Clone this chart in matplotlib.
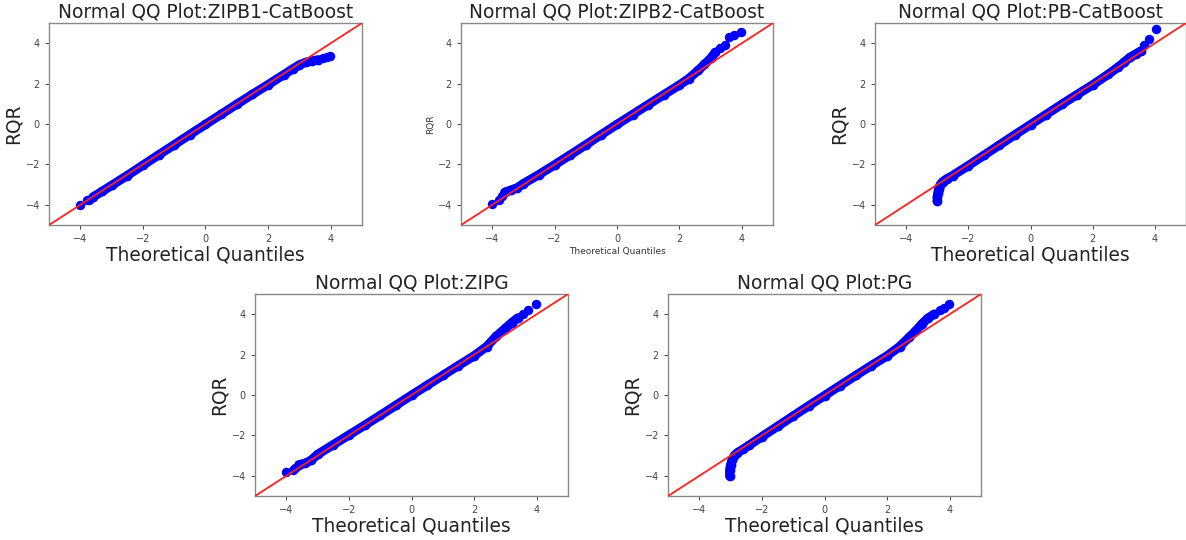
import matplotlib
matplotlib.use("Agg")
import matplotlib.pyplot as plt

# ---- data (theoretical quantile, RQR) ----
titles = ["Normal QQ Plot:ZIPB1-CatBoost", "Normal QQ Plot:ZIPB2-CatBoost",
          "Normal QQ Plot:PB-CatBoost", "Normal QQ Plot:ZIPG", "Normal QQ Plot:PG"]

zipb1_band_x = [-3.6, -3.3, -3.0, -2.5, -2.0, -1.5, -1.0, -0.5, 0.0, 0.5, 1.0, 1.5, 2.0, 2.5, 2.8, 3.0, 3.2, 3.4, 3.6]
zipb1_band_y = [-3.62, -3.33, -3.04, -2.55, -2.04, -1.53, -1.03, -0.52, -0.02, 0.48, 0.98, 1.47, 1.95, 2.44, 2.74, 2.93, 3.05, 3.12, 3.18]
zipb1_dots_x = [-4.0, -3.8, -3.72, 3.75, 3.88, 3.98]
zipb1_dots_y = [-4.02, -3.76, -3.76, 3.25, 3.3, 3.36]

zipb2_band_x = [-3.6, -3.4, -3.2, -3.0, -2.5, -2.0, -1.5, -1.0, -0.5, 0.0, 0.5, 1.0, 1.5, 2.0, 2.3, 2.6, 2.8, 3.0, 3.15]
zipb2_band_y = [-3.38, -3.27, -3.16, -2.95, -2.5, -2.02, -1.53, -1.03, -0.52, -0.02, 0.47, 0.96, 1.45, 1.93, 2.25, 2.65, 2.95, 3.25, 3.55]
zipb2_dots_x = [-4.02, -3.78, -3.68, 3.3, 3.45, 3.6, 3.75, 3.98]
zipb2_dots_y = [-3.96, -3.76, -3.55, 3.78, 3.9, 4.3, 4.4, 4.53]

pb_band_x = [-3.0, -3.0, -2.98, -2.95, -2.9, -2.82, -2.7, -2.5, -2.0, -1.5, -1.0, -0.5, 0.0, 0.5, 1.0, 1.5, 2.0, 2.5, 2.8, 3.0, 3.2, 3.4, 3.55]
pb_band_y = [-3.8, -3.6, -3.4, -3.2, -3.0, -2.85, -2.72, -2.55, -2.06, -1.55, -1.04, -0.53, -0.03, 0.47, 0.97, 1.46, 1.94, 2.46, 2.8, 3.05, 3.3, 3.48, 3.62]
pb_dots_x = [3.65, 3.82, 4.02]
pb_dots_y = [3.9, 4.21, 4.68]

zipg_band_x = [-3.6, -3.4, -3.2, -3.0, -2.5, -2.0, -1.5, -1.0, -0.5, 0.0, 0.5, 1.0, 1.5, 2.0, 2.4, 2.7, 3.0, 3.2, 3.4]
zipg_band_y = [-3.45, -3.38, -3.22, -2.94, -2.46, -1.98, -1.5, -1.01, -0.51, -0.01, 0.48, 0.97, 1.46, 1.94, 2.4, 2.9, 3.3, 3.58, 3.82]
zipg_dots_x = [-4.02, -3.8, -3.72, 3.55, 3.72, 3.98]
zipg_dots_y = [-3.8, -3.72, -3.6, 4.0, 4.22, 4.49]

pg_band_x = [-3.03, -3.03, -3.0, -2.95, -2.88, -2.78, -2.6, -2.4, -2.0, -1.5, -1.0, -0.5, 0.0, 0.5, 1.0, 1.5, 2.0, 2.4, 2.7, 2.9, 3.1, 3.3, 3.5]
pg_band_y = [-4.02, -3.7, -3.45, -3.2, -3.0, -2.85, -2.68, -2.48, -2.06, -1.55, -1.04, -0.53, -0.03, 0.47, 0.97, 1.46, 1.94, 2.4, 2.85, 3.15, 3.5, 3.8, 4.0]
pg_dots_x = [3.7, 3.82, 3.99]
pg_dots_y = [4.22, 4.3, 4.5]

ticks = [-4, -2, 0, 2, 4]

bands = [(zipb1_band_x, zipb1_band_y), (zipb2_band_x, zipb2_band_y), (pb_band_x, pb_band_y),
         (zipg_band_x, zipg_band_y), (pg_band_x, pg_band_y)]
dots = [(zipb1_dots_x, zipb1_dots_y), (zipb2_dots_x, zipb2_dots_y), (pb_dots_x, pb_dots_y),
        (zipg_dots_x, zipg_dots_y), (pg_dots_x, pg_dots_y)]

W, H = 1186, 540
fig = plt.figure(figsize=(W / 100, H / 100), dpi=100)

# axes boxes in pixels: left, top, width, height
boxes = [(49, 23, 313, 202), (461, 23, 312, 202), (875, 23, 311, 202),
         (255, 294, 313, 202), (668, 294, 313, 202)]
small_labels = [False, True, False, False, False]

for i, (l, t, w, h) in enumerate(boxes):
    ax = fig.add_axes([l / W, 1 - (t + h) / H, w / W, h / H])
    bx, by = bands[i]
    dx, dy = dots[i]
    ax.plot(bx, by, color='#0000ff', lw=6.6, solid_capstyle='round', solid_joinstyle='round', zorder=2)
    ax.plot(bx, by, 'o', color='#0000ff', ms=6.0, zorder=2)
    ax.plot(dx, dy, 'o', color='#0000ff', ms=5.8, zorder=2)
    ax.axline((0, 0), slope=1, color='#ff2020', lw=1.3, zorder=3)
    ax.set_xlim(-5, 5)
    ax.set_ylim(-5, 5)
    ax.set_xticks(ticks)
    ax.set_yticks(ticks)
    ax.tick_params(labelsize=7, colors='#444444', length=3, width=0.7)
    for s in ax.spines.values():
        s.set_color('#888888')
        s.set_linewidth(1.0)
    ax.set_title(titles[i], fontsize=13.4, color='#222222', pad=4)
    if small_labels[i]:
        ax.set_xlabel("Theoretical Quantiles", fontsize=6.5, color='#333333', labelpad=2)
        ax.set_ylabel("RQR", fontsize=6.5, color='#333333', labelpad=2)
    else:
        ax.set_xlabel("Theoretical Quantiles", fontsize=13.4, color='#222222', labelpad=1)
        ax.set_ylabel("RQR", fontsize=13.4, color='#222222', labelpad=2)

fig.savefig("out.png", dpi=100, facecolor='white')
